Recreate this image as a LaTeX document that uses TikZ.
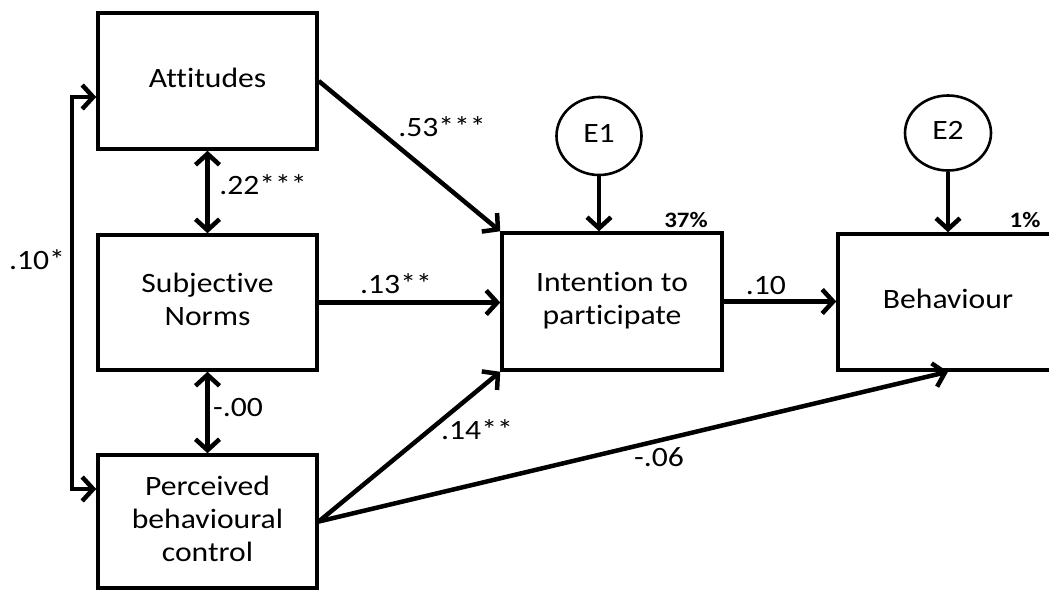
\documentclass[tikz,border=0pt]{standalone}
\usepackage{fontspec}
\usepackage{graphicx}
\setmainfont{Carlito}[Ligatures=NoCommon]
\usetikzlibrary{arrows.meta,shapes.geometric}
\newcommand{\hsx}[1]{\scalebox{1.13}[1]{\begin{tabular}{@{}c@{}}#1\end{tabular}}}
\begin{document}
\begin{tikzpicture}[x=1pt,y=-1pt,
  box/.style={draw,line width=3.5pt,minimum width=219pt,inner sep=0pt,font=\fontsize{28}{33}\selectfont},
  err/.style={draw,ellipse,line width=2.6pt,inner sep=0pt,font=\fontsize{28}{33}\selectfont},
  arr/.style={line width=4.5pt,-{Straight Barb[length=11pt,width=24pt]}},
  darr/.style={line width=4.5pt,{Straight Barb[length=11pt,width=24pt]}-{Straight Barb[length=11pt,width=24pt]}},
  lab/.style={inner sep=0pt,font=\fontsize{28}{33}\selectfont},
  blab/.style={inner sep=0pt,font=\fontsize{22}{26}\selectfont\bfseries}]
\clip (0,0) rectangle (1049,592);
\fill[white] (0,0) rectangle (1049,592);
\node[box,minimum height=136pt] (att) at (207.5,81) {\hsx{Attitudes}};
\node[box,minimum height=135pt] (sn) at (207.5,302.5) {\hsx{Subjective\\Norms}};
\node[box,minimum height=133pt] (pbc) at (207.5,521.5) {\hsx{Perceived\\behavioural\\control}};
\node[box,minimum width=220pt,minimum height=137pt] (int) at (612,301.5) {\hsx{Intention to\\participate}};
\node[box,minimum width=220pt,minimum height=136pt] (beh) at (948,302) {\hsx{Behaviour}};
\node[err,minimum width=85pt,minimum height=78pt] (e1) at (599,136) {\hsx{E1}};
\node[err,minimum width=86pt,minimum height=75pt] (e2) at (948,133) {\hsx{E2}};
\coordinate (la) at (72,97);
\coordinate (lb) at (72,489);
\draw[darr] (att.west |- la) -- (la) -- (lb) -- (pbc.west |- lb);
\draw[darr] (att.south) -- (sn.north);
\draw[darr] (sn.south) -- (pbc.north);
\draw[arr] (att.east) -- (int.north west);
\draw[arr] (sn.east) -- (sn.east -| int.west);
\draw[arr] (pbc.east) -- (int.south west);
\draw[arr] (pbc.east) -- (beh.south);
\draw[arr] (int.east) -- (int.east -| beh.west);
\draw[arr] (e1.south) -- (e1.south |- int.north);
\draw[arr] (e2.south) -- (e2.south |- beh.north);
\node[lab] (l53) at (442,130) {\hsx{.53***}};
\node[lab] (l22) at (263,188) {\hsx{.22***}};
\node[lab] (l10s) at (37,263) {\hsx{.10*}};
\node[lab] (l13) at (396,287) {\hsx{.13**}};
\node[lab] (l10) at (766,288) {\hsx{.10}};
\node[lab] (l00) at (238,410) {\hsx{-.00}};
\node[lab] (l14) at (477,433) {\hsx{.14**}};
\node[lab] (l06) at (659,460) {\hsx{-.06}};
\node[blab] (p37) at (686,222) {\hsx{37\%}};
\node[blab] (p1) at (1025,222) {\hsx{1\%}};
\end{tikzpicture}
\end{document}
